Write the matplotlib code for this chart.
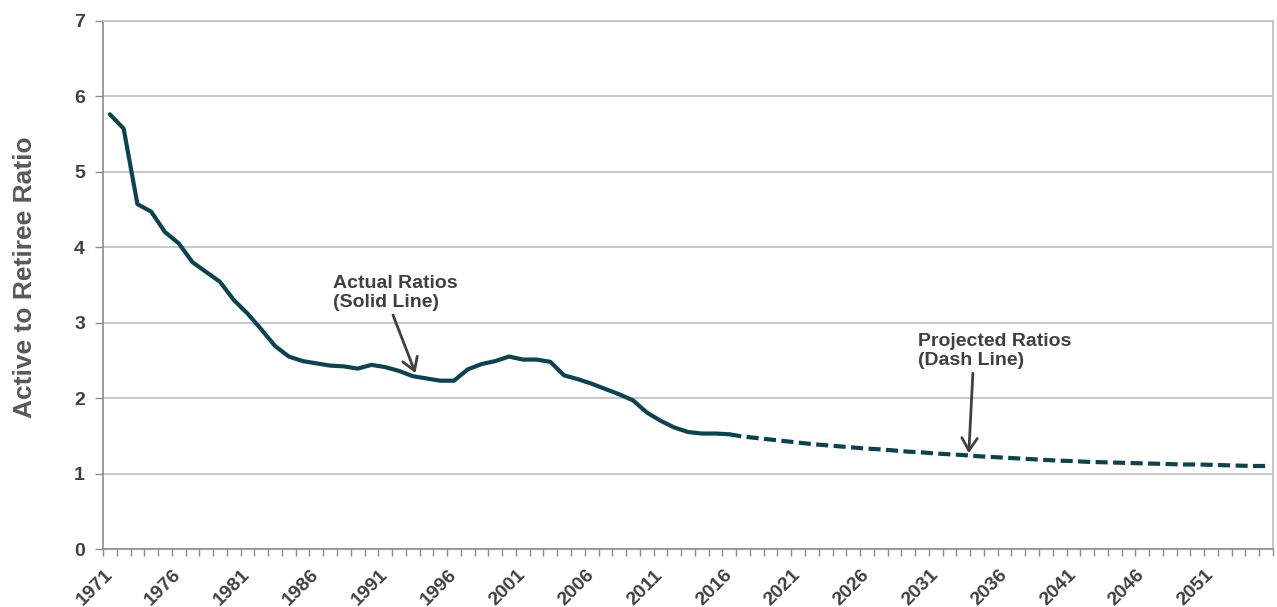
import matplotlib
matplotlib.use("Agg")
import matplotlib.pyplot as plt
from matplotlib.ticker import FixedLocator

plt.rcParams["font.family"] = ["Liberation Sans", "DejaVu Sans"]

# actual ratios (solid line)
years_actual = list(range(1971, 2017))
ratio_actual = [
    5.76, 5.57, 4.57, 4.47, 4.20, 4.05, 3.80, 3.67, 3.54, 3.30,
    3.12, 2.91, 2.69, 2.55, 2.49, 2.46, 2.43, 2.42, 2.39, 2.44,
    2.41, 2.36, 2.29, 2.26, 2.23, 2.23, 2.38, 2.45, 2.49, 2.55,
    2.51, 2.51, 2.48, 2.30, 2.25, 2.19, 2.12, 2.05, 1.97, 1.81,
    1.70, 1.61, 1.55, 1.53, 1.53, 1.52,
]

# projected ratios (dashed line)
years_proj = list(range(2016, 2056))
ratio_proj = [
    1.52, 1.49, 1.47, 1.45, 1.43, 1.41, 1.39, 1.375, 1.36, 1.345,
    1.33, 1.32, 1.305, 1.29, 1.28, 1.265, 1.255, 1.245, 1.23, 1.22,
    1.21, 1.20, 1.19, 1.18, 1.17, 1.165, 1.155, 1.15, 1.145, 1.14,
    1.135, 1.13, 1.125, 1.12, 1.12, 1.115, 1.11, 1.105, 1.10, 1.10,
]

label_years = list(range(1971, 2056, 5))
y_ticks = [0, 1, 2, 3, 4, 5, 6, 7]

LINE = "#0A4451"
TEXT = "#404040"
GRID = "#BFBFBF"
AXIS = "#8C8C8C"

fig = plt.figure(figsize=(12.77, 6.07), dpi=100)
ax = fig.add_axes([103 / 1277, 1 - 549 / 607, 1170 / 1277, 528.3 / 607])

ax.plot(years_actual, ratio_actual, "-", color=LINE, linewidth=3,
        solid_capstyle="round", solid_joinstyle="round", zorder=3)
ax.plot(years_proj, ratio_proj, color=LINE, linewidth=3,
        linestyle=(0, (2.9, 1.3)), dash_capstyle="butt", zorder=3)

ax.set_xlim(1970.5, 2055.5)
ax.set_ylim(0, 7)

ax.set_yticks(y_ticks)
ax.yaxis.grid(True, color=GRID, linewidth=1.2)
ax.set_axisbelow(True)

ax.set_xticks(label_years)
ax.set_xticklabels([str(y) for y in label_years])
ax.xaxis.set_minor_locator(FixedLocator([y - 0.5 for y in range(1971, 2057)]))
ax.tick_params(axis="x", which="major", length=0, pad=17)
ax.tick_params(axis="x", which="minor", length=5, color=AXIS, width=1)
for lbl in ax.get_xticklabels():
    lbl.set_rotation(45)
    lbl.set_ha("right")
    lbl.set_va("center")
    lbl.set_rotation_mode("anchor")
    lbl.set_fontsize(14)
    lbl.set_fontweight("bold")
    lbl.set_color(TEXT)

ax.tick_params(axis="y", length=6, color=AXIS, width=1, pad=7,
               labelsize=14, labelcolor=TEXT)
for lbl in ax.get_yticklabels():
    lbl.set_fontweight("bold")

ax.spines["left"].set_color(AXIS)
ax.spines["bottom"].set_color(AXIS)
ax.spines["right"].set_color(GRID)
ax.spines["top"].set_color(GRID)
for s in ax.spines.values():
    s.set_linewidth(1.2)

ax.set_ylabel("Active to Retiree Ratio", fontsize=19, fontweight="bold",
              color="#595959")
ax.yaxis.set_label_coords(-0.0565, 0.514)

arrow_style = dict(arrowstyle="->, head_length=0.45, head_width=0.28",
                   color=TEXT, lw=2.0, shrinkA=1, shrinkB=0, mutation_scale=20)

ax.annotate("Actual Ratios\n(Solid Line)", xy=(1993.2, 2.33), xytext=(1987.2, 3.63),
            fontsize=14, fontweight="bold", color=TEXT, ha="left", va="top",
            linespacing=1.15,
            arrowprops=dict(arrow_style, relpos=(0.47, 0.0)))

ax.annotate("Projected Ratios\n(Dash Line)", xy=(2033.4, 1.27), xytext=(2029.7, 2.86),
            fontsize=14, fontweight="bold", color=TEXT, ha="left", va="top",
            linespacing=1.15,
            arrowprops=dict(arrow_style, relpos=(0.36, 0.0)))

fig.savefig("out.png", dpi=100)
plt.close(fig)
